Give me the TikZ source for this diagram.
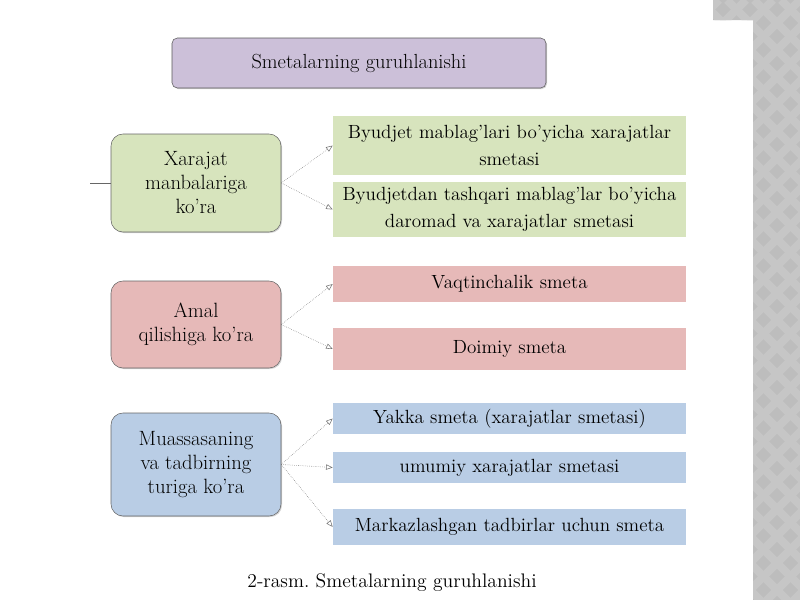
\documentclass[tikz,border=0pt]{standalone}
\usetikzlibrary{arrows.meta,shadows}
\definecolor{lav}{HTML}{CCC0D9}
\definecolor{grn}{HTML}{D7E4BD}
\definecolor{pnk}{HTML}{E6B9B8}
\definecolor{blu}{HTML}{B9CDE5}
\definecolor{side}{HTML}{BDBDBD}
\definecolor{sidel}{HTML}{C6C6C6}
\tikzset{
  leftbox/.style={draw=black!60, rounded corners=9pt, align=center, inner sep=2pt,
    minimum width=127.5pt, drop shadow={shadow xshift=0.8pt, shadow yshift=-0.8pt, opacity=0.35},
    font=\fontsize{15.5}{18}\selectfont},
  rightbox/.style={align=center, inner sep=1pt, minimum width=264.75pt,
    font=\fontsize{14.3}{20}\selectfont},
  titlebox/.style={draw=black!65, fill=lav, rounded corners=4pt, minimum width=280.5pt,
    minimum height=37.5pt, drop shadow={shadow xshift=0.8pt, shadow yshift=-0.8pt, opacity=0.35},
    font=\fontsize{15.3}{18}\selectfont},
  conn/.style={draw=black!55, densely dotted, thin, -{Triangle[open,length=5pt,width=4pt]}}
}
\begin{document}
\frenchspacing
\begin{tikzpicture}[x=0.75pt,y=-0.75pt]
\useasboundingbox (0,0) rectangle (800,600);
% side decoration
\begin{scope}
\clip (713,0) rectangle (800,20) (753,0) rectangle (800,600);
\fill[side] (700,0) rectangle (800,600);
\foreach \k in {-30,...,10} {
  \draw[sidel, line width=6pt] (700+\k*27,0) -- ++(650,650);
  \draw[sidel, line width=6pt] (800-\k*27,0) -- ++(-650,650);
}
\end{scope}

\node[titlebox] (T) at (359,63) {Smetalarning guruhlanishi};

\node[leftbox, fill=grn, minimum height=73.5pt] (L1) at (196,183) {Xarajat\\manbalariga\\ko’ra};
\node[leftbox, fill=pnk, minimum height=65.25pt] (L2) at (196,324.5) {Amal\\qilishiga ko’ra};
\node[leftbox, fill=blu, minimum height=77.25pt] (L3) at (196,464.5) {Muassasaning\\va tadbirning\\turiga ko’ra};

\node[rightbox, fill=grn, minimum height=44.25pt] (R1) at (509.5,145.5) {Byudjet mablag’lari bo’yicha xarajatlar\\smetasi};
\node[rightbox, fill=grn, minimum height=41.25pt] (R2) at (509.5,209.5) {Byudjetdan tashqari mablag’lar bo’yicha\\daromad va xarajatlar smetasi};
\node[rightbox, fill=pnk, minimum height=27pt] (R3) at (509.5,284) {Vaqtinchalik smeta};
\node[rightbox, fill=pnk, minimum height=31.5pt] (R4) at (509.5,349) {Doimiy smeta};
\node[rightbox, fill=blu, minimum height=23.25pt] (R5) at (509.5,418.5) {Yakka smeta (xarajatlar smetasi)};
\node[rightbox, fill=blu, minimum height=23.25pt] (R6) at (509.5,467.5) {umumiy xarajatlar smetasi};
\node[rightbox, fill=blu, minimum height=27pt] (R7) at (509.5,527) {Markazlashgan tadbirlar uchun smeta};

\coordinate (S) at (90,183);
\draw[black!60, thin] (S) -- (L1.west);

\draw[conn] (L1.east) -- (R1.west);
\draw[conn] (L1.east) -- (R2.west);
\draw[conn] (L2.east) -- (R3.west);
\draw[conn] (L2.east) -- (R4.west);
\draw[conn] (L3.east) -- (R5.west);
\draw[conn] (L3.east) -- (R6.west);
\draw[conn] (L3.east) -- (R7.west);

\node[font=\fontsize{14.7}{17}\selectfont] (C) at (392,583) {2-rasm. Smetalarning guruhlanishi};
\end{tikzpicture}
\end{document}
